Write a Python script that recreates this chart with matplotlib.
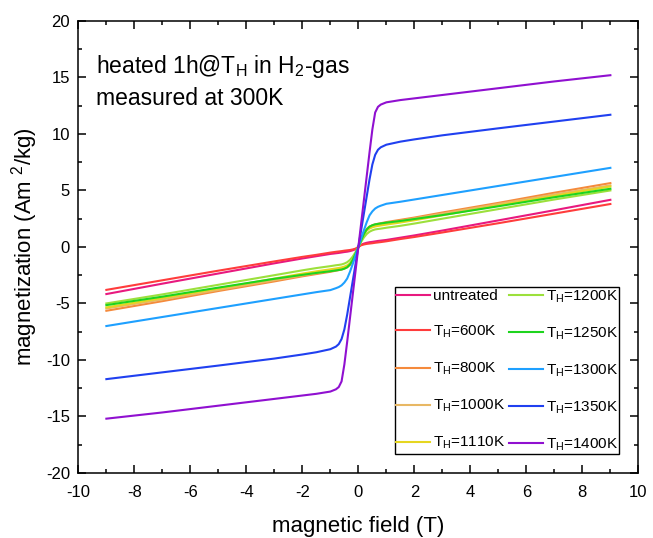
import numpy as np
import matplotlib
matplotlib.use("Agg")
import matplotlib.pyplot as plt

plt.rcParams['font.family'] = ['Liberation Sans', 'DejaVu Sans']
plt.rcParams['mathtext.fontset'] = 'custom'
plt.rcParams['mathtext.rm'] = 'Liberation Sans'
plt.rcParams['mathtext.it'] = 'Liberation Sans:italic'
plt.rcParams['axes.unicode_minus'] = False

# field points (T), positive branch; curves are odd in H
field = [0, 0.1, 0.2, 0.3, 0.4, 0.5, 0.6, 0.7, 0.8, 1.0, 1.5, 2, 3, 5, 7, 9]

m_untreated = [0, 0.20, 0.30, 0.37, 0.42, 0.45, 0.49, 0.53, 0.56, 0.62, 0.82, 1.02, 1.45, 2.35, 3.25, 4.17]
m_600 = [0, 0.15, 0.22, 0.27, 0.30, 0.33, 0.37, 0.40, 0.43, 0.50, 0.70, 0.88, 1.28, 2.10, 2.95, 3.80]
m_800 = [0, 0.70, 1.25, 1.60, 1.80, 1.92, 2.00, 2.05, 2.10, 2.20, 2.40, 2.60, 3.05, 3.90, 4.80, 5.65]
m_1000 = [0, 0.65, 1.20, 1.55, 1.75, 1.86, 1.93, 1.98, 2.03, 2.12, 2.32, 2.52, 2.95, 3.80, 4.65, 5.45]
m_1110 = [0, 0.60, 1.10, 1.45, 1.63, 1.74, 1.81, 1.86, 1.90, 1.98, 2.16, 2.36, 2.80, 3.67, 4.52, 5.35]
m_1200 = [0, 0.45, 0.85, 1.15, 1.35, 1.47, 1.55, 1.59, 1.62, 1.70, 1.87, 2.07, 2.50, 3.35, 4.20, 5.00]
m_1250 = [0, 0.60, 1.15, 1.55, 1.80, 1.92, 2.00, 2.04, 2.08, 2.15, 2.30, 2.47, 2.82, 3.60, 4.40, 5.15]
m_1300 = [0, 0.75, 1.50, 2.20, 2.80, 3.15, 3.40, 3.55, 3.65, 3.82, 4.00, 4.20, 4.60, 5.40, 6.20, 7.00]
m_1350 = [0, 1.50, 3.00, 4.50, 6.00, 7.30, 8.15, 8.60, 8.82, 9.05, 9.32, 9.52, 9.88, 10.50, 11.10, 11.70]
m_1400 = [0, 2.10, 4.20, 6.30, 8.40, 10.40, 11.90, 12.40, 12.60, 12.80, 13.00, 13.15, 13.45, 14.05, 14.65, 15.20]

labels = ['untreated', 'T$_\\mathrm{H}$=600K', 'T$_\\mathrm{H}$=800K', 'T$_\\mathrm{H}$=1000K',
          'T$_\\mathrm{H}$=1110K', 'T$_\\mathrm{H}$=1200K', 'T$_\\mathrm{H}$=1250K',
          'T$_\\mathrm{H}$=1300K', 'T$_\\mathrm{H}$=1350K', 'T$_\\mathrm{H}$=1400K']
series = [m_untreated, m_600, m_800, m_1000, m_1110, m_1200, m_1250, m_1300, m_1350, m_1400]
colors = ['#e8197f', '#ff3c3c', '#f58a3c', '#e8b864', '#e6d620', '#9ce03c', '#1ed41e',
          '#1ea0ff', '#2040f0', '#9010d0']

fig = plt.figure(figsize=(6.53, 5.38), dpi=100)
ax = fig.add_axes([0.12, 0.121, 0.8576, 0.840])

h = np.array(field)
H = np.concatenate([-h[::-1], h[1:]])
for m, lab, c in zip(series, labels, colors):
    m = np.array(m)
    M = np.concatenate([-m[::-1], m[1:]])
    ax.plot(H, M, color=c, lw=1.5, label=lab)

ax.set_xlim(-10, 10)
ax.set_ylim(-20, 20)
ax.set_xticks(np.arange(-10, 11, 2))
ax.set_xticks(np.arange(-9, 10, 2), minor=True)
ax.set_yticks(np.arange(-20, 21, 5))
ax.set_yticks(np.arange(-17.5, 20, 5), minor=True)
ax.tick_params(which='both', direction='in', top=True, right=True, labelsize=12, width=1.1)
ax.tick_params(which='major', length=5.8)
ax.tick_params(which='minor', length=3)
ax.tick_params(axis='x', which='major', pad=8.5)
ax.tick_params(axis='y', which='major', pad=6)
for s in ax.spines.values():
    s.set_linewidth(1.1)

ax.set_xlabel('magnetic field (T)', fontsize=16, labelpad=12)
ax.set_ylabel('magnetization (Am $^2$/kg)', fontsize=16, labelpad=4)

ax.text(0.032, 0.929, 'heated 1h@T$_\\mathrm{H}$ in H$_2$-gas\nmeasured at 300K',
        transform=ax.transAxes, fontsize=16.5, va='top', ha='left', linespacing=1.4)

leg = ax.legend(ncol=2, loc='lower right', bbox_to_anchor=(0.966, 0.042), borderaxespad=0,
                fontsize=11, fancybox=False, edgecolor='black', framealpha=1,
                labelspacing=1.35, handlelength=2.2, handletextpad=0.2, columnspacing=0.25,
                borderpad=0.08)
leg.get_frame().set_linewidth(1.0)

fig.savefig('out.png', dpi=100)
